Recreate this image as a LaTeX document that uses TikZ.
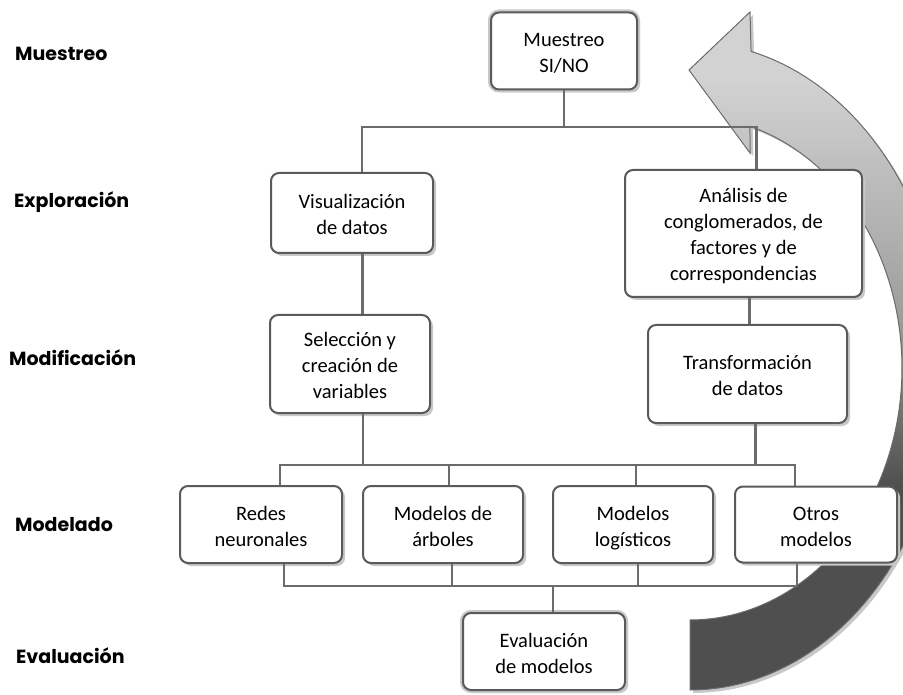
\documentclass[tikz,border=0pt]{standalone}
\usepackage{fontspec}
\setmainfont{Carlito}
\newfontfamily\etiqfont{Poppins}
\usetikzlibrary{shadows}
\definecolor{borde}{HTML}{5A5A5A}
\definecolor{linea}{HTML}{6B6B6B}
\definecolor{sombra}{HTML}{C8C8C8}
\definecolor{flechaclara}{HTML}{D2D2D2}
\definecolor{flechamedia}{HTML}{9C9C9C}
\definecolor{flechaoscura}{HTML}{4F4F4F}
\pgfdeclareverticalshading{flecha}{100bp}{color(0bp)=(flechaoscura); color(40bp)=(flechaoscura);
  color(52bp)=(flechamedia); color(70bp)=(flechaclara); color(100bp)=(flechaclara)}
\newcommand{\txt}[1]{\rule{0pt}{23pt}#1\rule[-6pt]{0pt}{6pt}}
\tikzset{
  caja/.style={draw=borde, line width=2pt, fill=white, rounded corners=8pt,
    align=center, inner sep=0pt, font=\fontsize{20.5}{26}\selectfont,
    drop shadow={shadow xshift=3pt, shadow yshift=-3pt, fill=sombra, opacity=1}},
  cajafin/.style={caja, preaction={draw=sombra, line width=6pt}},
  enlace/.style={draw=linea, line width=2.2pt},
  etapa/.style={anchor=base west, inner sep=0pt,
    font=\etiqfont\bfseries\fontsize{19}{22}\selectfont}
}
\begin{document}
\begin{tikzpicture}[x=1pt, y=-1pt]
\useasboundingbox (0,0) rectangle (903,695);
\clip (0,0) rectangle (903,695);

\draw[draw=linea, line width=1pt, shading=flecha,
      drop shadow={shadow xshift=3pt, shadow yshift=-3pt, fill=sombra, opacity=1}]
  (750,12) -- (689,70) -- (750,153)
  -- plot[domain=-73.56:90, samples=90] ({690+212*cos(\x)}, {368+252*sin(\x)})
  -- plot[domain=90:-76.2, samples=90] ({690+256*cos(\x)}, {366+324*sin(\x)})
  -- cycle;

\node[etapa] (eMue) at (15,61) {Muestreo};
\node[etapa] (eExp) at (14,208) {Exploración};
\node[etapa] (eMod) at (9,366) {Modificación};
\node[etapa] (eMdl) at (15,531) {Modelado};
\node[etapa] (eEva) at (16,663) {Evaluación};

\node[cajafin, minimum width=146pt, minimum height=77pt] (mue) at (564,51) {\txt{Muestreo\\SI/NO}};
\node[caja, minimum width=162pt, minimum height=80pt] (vis) at (352,213) {\txt{Visualización\\de datos}};
\node[caja, minimum width=237pt, minimum height=127pt] (ana) at (743.5,233.5) {\txt{Análisis de\\conglomerados, de\\factores y de\\correspondencias}};
\node[caja, minimum width=160pt, minimum height=98pt] (sel) at (350,364) {\txt{Selección y\\creación de\\variables}};
\node[caja, minimum width=199pt, minimum height=98pt] (tra) at (747.5,374) {\txt{Transformación\\de datos}};
\node[caja, minimum width=162pt, minimum height=77pt] (red) at (261,524.5) {\txt{Redes\\neuronales}};
\node[caja, minimum width=160pt, minimum height=77pt] (arb) at (443,524.5) {\txt{Modelos de\\árboles}};
\node[caja, minimum width=160pt, minimum height=77pt] (log) at (633,524.5) {\txt{Modelos\\logísticos}};
\node[caja, minimum width=162pt, minimum height=76pt] (otr) at (816,524.5) {\txt{Otros\\modelos}};
\node[cajafin, minimum width=162pt, minimum height=77pt] (eva) at (544,651.5) {\txt{Evaluación\\de modelos}};

\coordinate (bus1) at (563,127);
\coordinate (bus2) at (363,465);
\coordinate (bus3) at (553,586);

\draw[enlace] (mue.south) -- (mue.south |- bus1);
\draw[enlace] ([xshift=10pt]vis.north) |- (bus1) -| ([xshift=13pt]ana.north);
\draw[enlace] ([xshift=10.5pt]vis.south) -- ([xshift=10.5pt]vis.south |- sel.north);
\draw[enlace] ([xshift=6pt]ana.south) -- ([xshift=6pt]ana.south |- tra.north);

\draw[enlace] ([xshift=13pt]sel.south) -- (bus2);
\draw[enlace] ([xshift=8pt]tra.south) -- ([xshift=8pt]tra.south |- bus2);
\draw[enlace] ([xshift=19pt]red.north) |- (bus2) -| ([xshift=-21pt]otr.north);
\draw[enlace] ([xshift=6pt]arb.north) -- ([xshift=6pt]arb.north |- bus2);
\draw[enlace] ([xshift=3pt]log.north) -- ([xshift=3pt]log.north |- bus2);

\draw[enlace] ([xshift=23pt]red.south) |- (bus3) -| ([xshift=-19pt]otr.south);
\draw[enlace] ([xshift=9pt]arb.south) -- ([xshift=9pt]arb.south |- bus3);
\draw[enlace] ([xshift=5pt]log.south) -- ([xshift=5pt]log.south |- bus3);
\draw[enlace] (bus3) -- ([xshift=9pt]eva.north);
\end{tikzpicture}
\end{document}
